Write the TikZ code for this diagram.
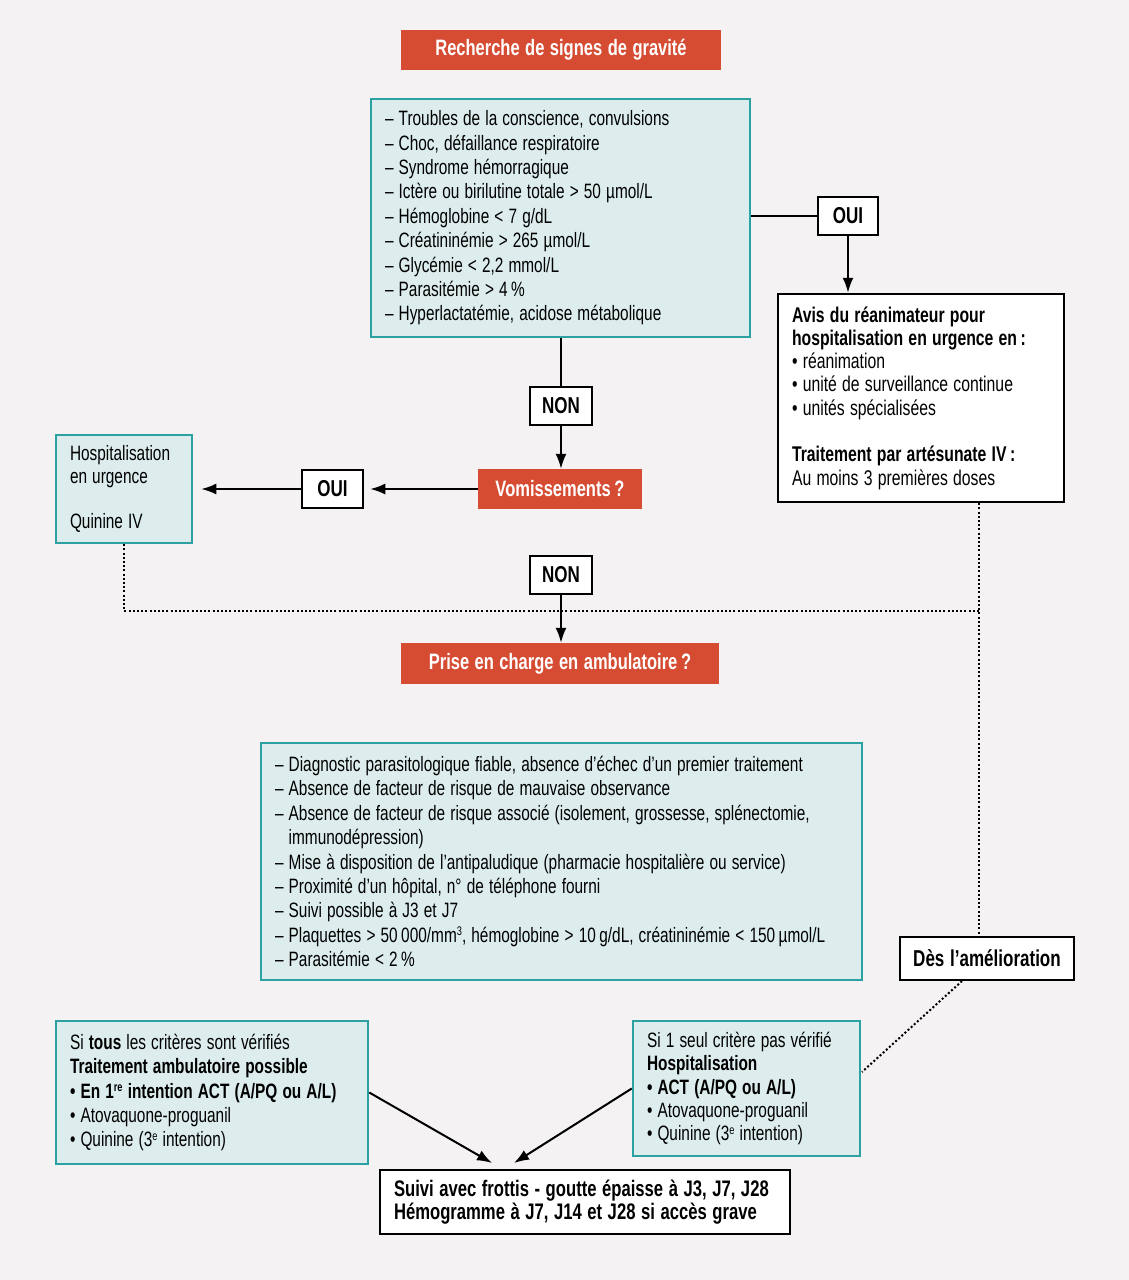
\documentclass[tikz,border=0pt]{standalone}
\usepackage{fontspec}
\setmainfont{Liberation Sans}[FakeStretch=0.74, WordSpace=1.2]
\usetikzlibrary{arrows.meta}
\definecolor{bgc}{HTML}{F4F2F3}
\definecolor{tealb}{HTML}{2BA1A1}
\definecolor{tealf}{HTML}{DDEDED}
\definecolor{redf}{HTML}{D64C33}
\newcommand{\supx}[1]{\raisebox{6.5pt}{\fontsize{12.5}{12}\selectfont #1}}
\tikzset{
  txt/.style={font=\fontsize{20.8}{24.4}\selectfont},
  boxbase/.style={line width=2.5pt, inner xsep=14pt, inner ysep=0pt, align=left, txt,
     execute at begin node={\spaceskip=0pt\xspaceskip=0pt\relax}},
  tealbox/.style={boxbase, draw=tealb, fill=tealf},
  whitebox/.style={boxbase, draw=black, fill=white},
  redbox/.style={fill=redf, text=white, inner sep=0pt, font=\fontsize{22.3}{24}\selectfont\bfseries},
  labbox/.style={draw=black, fill=white, line width=2.5pt, inner sep=0pt, minimum height=38pt, font=\fontsize{23}{24}\selectfont\bfseries},
  conn/.style={line width=2pt, draw=black},
  arr/.style={conn, -{Latex[length=15pt,width=11pt]}},
  dotline/.style={line width=2pt, dash pattern=on 2pt off 2.2pt},
}
\begin{document}
\begin{tikzpicture}[x=1pt,y=-1pt]
\fill[bgc] (0,0) rectangle (1129,1280);
\useasboundingbox (0,0) rectangle (1129,1280);

\node[redbox, minimum width=320pt, minimum height=40pt] (title) at (561,50) {Recherche de signes de gravité};

\node[tealbox, text width=351pt, minimum width=379pt, minimum height=238pt] (crit) at (560.5,218) {%
– Troubles de la conscience, convulsions\\
– Choc, défaillance respiratoire\\
– Syndrome hémorragique\\
– Ictère ou birilutine totale > 50 µmol/L\\
– Hémoglobine < 7 g/dL\\
– Créatininémie > 265 µmol/L\\
– Glycémie < 2,2 mmol/L\\
– Parasitémie > 4\,\%\\
– Hyperlactatémie, acidose métabolique};

\node[labbox, minimum width=60pt] (oui1) at (848,216) {OUI};

\node[whitebox, text width=258pt, minimum width=286pt, minimum height=208pt, font=\fontsize{21.3}{23.3}\selectfont] (avis) at (921,398) {%
\textbf{Avis du réanimateur pour}\\
\textbf{hospitalisation en urgence en\,:}\\
• réanimation\\
• unité de surveillance continue\\
• unités spécialisées\\[23.3pt]
\textbf{Traitement par artésunate IV\,:}\\
Au moins 3 premières doses};

\node[labbox, minimum width=62pt] (non1) at (561,406) {NON};
\node[redbox, minimum width=164pt, minimum height=40pt] (vom) at (560,489) {Vomissements\,?};
\node[labbox, minimum width=61pt] (oui2) at (332.5,489) {OUI};

\node[tealbox, text width=108pt, minimum width=136pt, minimum height=108pt, font=\fontsize{20.8}{22.5}\selectfont] (hosp) at (124,489) {%
Hospitalisation\\
en urgence\\[22.5pt]
Quinine IV};

\node[labbox, minimum width=62pt] (non2) at (561,575) {NON};
\node[redbox, minimum width=318pt, minimum height=41pt] (prise) at (560,663.5) {Prise en charge en ambulatoire\,?};

\node[tealbox, text width=573pt, minimum width=601pt, minimum height=237pt] (crit2) at (561.5,861.5) {%
– Diagnostic parasitologique fiable, absence d’échec d’un premier traitement\\
– Absence de facteur de risque de mauvaise observance\\
– Absence de facteur de risque associé (isolement, grossesse, splénectomie,\\
\phantom{– }immunodépression)\\
– Mise à disposition de l’antipaludique (pharmacie hospitalière ou service)\\
– Proximité d’un hôpital, n° de téléphone fourni\\
– Suivi possible à J3 et J7\\
– Plaquettes > 50\,000/mm\supx{3}, hémoglobine > 10\,g/dL, créatininémie < 150\,µmol/L\\
– Parasitémie < 2\,\%};

\node[labbox, minimum width=174pt, minimum height=43pt] (des) at (987,958.5) {Dès l’amélioration};

\node[tealbox, text width=284pt, minimum width=312pt, minimum height=143pt] (leftb) at (212,1092.5) {%
Si \textbf{tous} les critères sont vérifiés\\
\textbf{Traitement ambulatoire possible}\\
\textbf{• En 1\supx{re} intention ACT (A/PQ ou A/L)}\\
• Atovaquone-proguanil\\
• Quinine (3\supx{e} intention)};

\node[tealbox, text width=199pt, minimum width=227pt, minimum height=135pt, font=\fontsize{20.8}{23.3}\selectfont] (rightb) at (746.5,1088.5) {%
Si 1 seul critère pas vérifié\\
\textbf{Hospitalisation}\\
\textbf{• ACT (A/PQ ou A/L)}\\
• Atovaquone-proguanil\\
• Quinine (3\supx{e} intention)};

\node[whitebox, text width=382pt, minimum width=410pt, minimum height=64pt, font=\fontsize{22.5}{23.3}\selectfont\bfseries] (suivi) at (585,1202) {%
Suivi avec frottis - goutte épaisse à J3, J7, J28\\
Hémogramme à J7, J14 et J28 si accès grave};

% connectors
\draw[conn] (crit.east |- oui1.west) -- (oui1.west);
\draw[arr] (oui1.south) -- (oui1.south |- avis.north);
\draw[conn] (crit.south -| non1) -- (non1.north);
\draw[arr] (non1.south) -- (vom.north -| non1);
\draw[arr, shorten >=6pt] (vom.west) -- (oui2.east);
\draw[arr, shorten >=8pt] (oui2.west) -- (hosp.east);
\draw[arr] (non2.south) -- (prise.north -| non2);

\coordinate (dr) at (979,611);
\coordinate (dl) at (124,611);
\coordinate (dd) at (962,981);
\coordinate (de) at (862,1072);
\draw[dotline] (hosp.south) -- (dl) -- (dr);
\draw[dotline] (avis.south -| dr) -- (des.north -| dr);
\draw[dotline] (dd) -- (de);

\coordinate (sl) at (492,1163);
\coordinate (sr) at (514,1163);
\draw[arr] (leftb.east) -- (sl);
\draw[arr] (rightb.west) -- (sr);
\end{tikzpicture}
\end{document}
